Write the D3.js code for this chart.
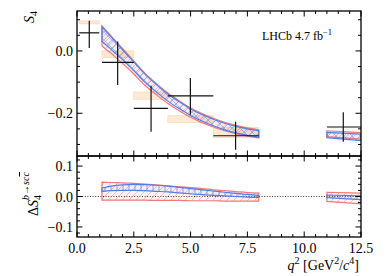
<!DOCTYPE html>
<html><head><meta charset="utf-8">
<script src="https://cdn.jsdelivr.net/npm/d3@7"></script>
<style>
html,body{margin:0;padding:0;background:#fff;}
svg{display:block;font-family:"Liberation Serif","Times New Roman","DejaVu Serif",serif;}
</style></head>
<body><svg id="c" width="390" height="276"></svg>
<script>
// ---------- data ----------
const binLo = [0.1, 1.1, 2.5, 4.0, 6.0, 11.0];
const binHi = [0.98, 2.5, 4.0, 6.0, 8.0, 12.5];
const q2Pt  = [0.54, 1.79, 3.26, 4.99, 6.98, 11.72];
const s4Pt  = [0.058, -0.037, -0.184, -0.144, -0.272, -0.244];
const errDn = [0.049, 0.072, 0.075, 0.061, 0.045, 0.047];
const errUp = [0.039, 0.067, 0.072, 0.057, 0.045, 0.047];

const smBinLo = [0.1, 1.1, 2.5, 4.0, 6.0];
const smBinHi = [0.98, 2.5, 4.0, 6.0, 8.0];
const smLo = [0.087, -0.021, -0.155, -0.230, -0.278];
const smHi = [0.096, 0.000, -0.132, -0.208, -0.245];

const qA = [1.1, 1.5, 2.0, 2.5, 3.0, 3.5, 4.0, 4.5, 5.0, 5.5, 6.0, 6.5, 7.0, 7.5, 8.0];
const blueUpA = [0.077, 0.045, 0.005, -0.035, -0.075, -0.108, -0.138, -0.163, -0.186, -0.204, -0.219, -0.232, -0.242, -0.250, -0.256];
const blueLoA = [0.030, 0.005, -0.028, -0.063, -0.101, -0.132, -0.161, -0.185, -0.207, -0.225, -0.240, -0.253, -0.263, -0.271, -0.277];
const redUpA  = [0.080, 0.048, 0.008, -0.032, -0.072, -0.105, -0.135, -0.160, -0.183, -0.201, -0.216, -0.229, -0.239, -0.247, -0.253];
const redLoA  = [0.016, -0.008, -0.040, -0.074, -0.111, -0.141, -0.169, -0.192, -0.213, -0.230, -0.244, -0.256, -0.266, -0.273, -0.279];

const qB = [11.0, 12.5];
const blueUpB = [-0.261, -0.267];
const blueLoB = [-0.278, -0.288];
const redUpB  = [-0.256, -0.262];
const redLoB  = [-0.275, -0.283];

const dBlueUpA = [0.028, 0.034, 0.038, 0.040, 0.039, 0.037, 0.034, 0.030, 0.026, 0.022, 0.018, 0.014, 0.010, 0.007, 0.004];
const dBlueLoA = [0.016, 0.019, 0.020, 0.020, 0.019, 0.017, 0.015, 0.012, 0.009, 0.006, 0.004, 0.002, 0.000, -0.002, -0.003];
const dRedUpA  = [0.047, 0.046, 0.045, 0.043, 0.041, 0.038, 0.035, 0.032, 0.029, 0.026, 0.022, 0.019, 0.016, 0.013, 0.011];
const dRedLoA  = [-0.012, -0.012, -0.012, -0.012, -0.012, -0.013, -0.013, -0.013, -0.014, -0.014, -0.014, -0.015, -0.015, -0.015, -0.015];
const dBlueUpB = [0.005, 0.002];
const dBlueLoB = [-0.004, -0.010];
const dRedUpB  = [0.014, 0.011];
const dRedLoB  = [-0.016, -0.024];

const xTickLabels = ["0.0", "2.5", "5.0", "7.5", "10.0", "12.5"];
const xTickVals = [0, 2.5, 5, 7.5, 10, 12.5];
const topTickVals = [0.0, -0.2];
const topTickLabels = ["0.0", "\u22120.2"];
const botTickVals = [0.1, 0.0, -0.1];
const botTickLabels = ["0.1", "0.0", "\u22120.1"];

// ---------- layout ----------
const L = 77, R = 361, T = 11, M = 156, B = 237;
const svg = d3.select("#c");
const x = d3.scaleLinear().domain([0, 12.5]).range([L, R]);
const yT = d3.scaleLinear().domain([-0.337, 0.128]).range([M, T]);
const yB = d3.scaleLinear().domain([-0.133, 0.133]).range([B, M]);

const BLUE = "#4f7fe6", RED = "#f07878";
const defs = svg.append("defs");
const pr = defs.append("pattern").attr("id","hr").attr("patternUnits","userSpaceOnUse").attr("width",7).attr("height",7);
pr.append("path").attr("d","M-1,8 L8,-1 M-1,1 L1,-1 M6,8 L8,6").attr("stroke",RED).attr("stroke-width",0.6).attr("opacity",0.75);
const pb = defs.append("pattern").attr("id","hb").attr("patternUnits","userSpaceOnUse").attr("width",6).attr("height",6);
pb.append("path").attr("d","M3,0 L3,6").attr("stroke",BLUE).attr("stroke-width",0.8).attr("opacity",0.85);
const pbx = defs.append("pattern").attr("id","hbx").attr("patternUnits","userSpaceOnUse").attr("width",8).attr("height",8);
pbx.append("path").attr("d","M0,0 L8,8 M8,0 L0,8").attr("stroke",BLUE).attr("stroke-width",0.6).attr("opacity",0.8);

const clipT = defs.append("clipPath").attr("id","ct"); clipT.append("rect").attr("x",L).attr("y",T).attr("width",R-L).attr("height",M-T);
const clipB = defs.append("clipPath").attr("id","cb"); clipB.append("rect").attr("x",L).attr("y",M).attr("width",R-L).attr("height",B-M);

function band(g, y, qs, up, lo, color, pat, fillOp) {
  const data = qs.map((q,i)=>({q, u:up[i], l:lo[i]}));
  const area = d3.area().x(d=>x(d.q)).y0(d=>y(d.l)).y1(d=>y(d.u)).curve(d3.curveMonotoneX);
  g.append("path").datum(data).attr("d",area).attr("fill",color).attr("fill-opacity",fillOp);
  g.append("path").datum(data).attr("d",area).attr("fill","url(#"+pat+")");
  g.append("path").datum(data).attr("d",area).attr("fill","none").attr("stroke",color).attr("stroke-width",1.2);
}

// ---------- top panel ----------
const gT = svg.append("g").attr("clip-path","url(#ct)");
smBinLo.forEach((lo,i)=>{
  gT.append("rect").attr("x",x(lo)).attr("width",x(smBinHi[i])-x(lo))
    .attr("y",yT(smHi[i])).attr("height",yT(smLo[i])-yT(smHi[i]))
    .attr("fill","#fde9d4").attr("stroke","#fcd9b6").attr("stroke-width",0.8);
});
band(gT, yT, qA, redUpA, redLoA, RED, "hr", 0.08);
band(gT, yT, qB, redUpB, redLoB, RED, "hr", 0.08);
band(gT, yT, qA, blueUpA, blueLoA, BLUE, "hbx", 0.06);
band(gT, yT, qB, blueUpB, blueLoB, BLUE, "hbx", 0.06);

q2Pt.forEach((q,i)=>{
  gT.append("line").attr("x1",x(binLo[i])).attr("x2",x(binHi[i])).attr("y1",yT(s4Pt[i])).attr("y2",yT(s4Pt[i]))
    .attr("stroke","#111").attr("stroke-width",1.2);
  gT.append("line").attr("x1",x(q)).attr("x2",x(q)).attr("y1",yT(s4Pt[i]+errUp[i])).attr("y2",yT(s4Pt[i]-errDn[i]))
    .attr("stroke","#111").attr("stroke-width",1.2);
});

// ---------- bottom panel ----------
const gB = svg.append("g").attr("clip-path","url(#cb)");
gB.append("line").attr("x1",L).attr("x2",R).attr("y1",yB(0)).attr("y2",yB(0))
  .attr("stroke","#333").attr("stroke-width",1).attr("stroke-dasharray","1,1.6");
band(gB, yB, qA, dRedUpA, dRedLoA, RED, "hr", 0.08);
band(gB, yB, qB, dRedUpB, dRedLoB, RED, "hr", 0.08);
band(gB, yB, qA, dBlueUpA, dBlueLoA, BLUE, "hb", 0.06);
band(gB, yB, qB, dBlueUpB, dBlueLoB, BLUE, "hb", 0.06);

// ---------- axes (inward ticks) ----------
function ticksX(yPos, dir) {
  d3.range(0, 12.51, 0.5).forEach(v=>{
    const major = Math.abs(v/2.5 - Math.round(v/2.5)) < 1e-6;
    const len = major ? 5.5 : 3;
    svg.append("line").attr("x1",x(v)).attr("x2",x(v)).attr("y1",yPos).attr("y2",yPos+dir*len)
      .attr("stroke","#000").attr("stroke-width",1);
  });
}
function ticksY(ys, vals, majors, xPos, dir) {
  vals.forEach(v=>{
    const major = majors.some(m=>Math.abs(m-v)<1e-6);
    const len = major ? 5.5 : 3;
    svg.append("line").attr("x1",xPos).attr("x2",xPos+dir*len).attr("y1",ys(v)).attr("y2",ys(v))
      .attr("stroke","#000").attr("stroke-width",1);
  });
}
ticksX(T, 1); ticksX(M, -1); ticksX(M, 1); ticksX(B, -1);
const topMinor = d3.range(-0.3, 0.11, 0.05).map(v=>Math.round(v*100)/100);
ticksY(yT, topMinor, [0, -0.2], L, 1); ticksY(yT, topMinor, [0, -0.2], R, -1);
const botMinor = d3.range(-0.12, 0.121, 0.02).map(v=>Math.round(v*100)/100);
ticksY(yB, botMinor, [0.1, 0, -0.1], L, 1); ticksY(yB, botMinor, [0.1, 0, -0.1], R, -1);

svg.append("rect").attr("x",L).attr("y",T).attr("width",R-L).attr("height",M-T).attr("fill","none").attr("stroke","#000").attr("stroke-width",1.3);
svg.append("rect").attr("x",L).attr("y",M).attr("width",R-L).attr("height",B-M).attr("fill","none").attr("stroke","#000").attr("stroke-width",1.3);

// tick labels
xTickVals.forEach((v,i)=>{
  svg.append("text").attr("x",x(v)).attr("y",253).attr("text-anchor","middle").attr("font-size",14).text(xTickLabels[i]);
});
topTickVals.forEach((v,i)=>{
  svg.append("text").attr("x",L-4).attr("y",yT(v)+5).attr("text-anchor","end").attr("font-size",14).text(topTickLabels[i]);
});
botTickVals.forEach((v,i)=>{
  svg.append("text").attr("x",L-4).attr("y",yB(v)+5).attr("text-anchor","end").attr("font-size",14).text(botTickLabels[i]);
});

// axis labels
const yl1 = svg.append("text").attr("transform","translate(34,11) rotate(-90)").attr("text-anchor","end").attr("font-size",14);
yl1.append("tspan").attr("font-style","italic").text("S");
yl1.append("tspan").attr("font-size",10).attr("dy",3).text("4");

const yl2 = svg.append("text").attr("transform","translate(38,194) rotate(-90)").attr("text-anchor","middle").attr("font-size",14);
yl2.append("tspan").text("\u0394");
yl2.append("tspan").attr("font-style","italic").text("S");
yl2.append("tspan").attr("font-size",10).attr("dy",3).text("4");
yl2.append("tspan").attr("font-size",10).attr("dx",-5).attr("dy",-12).attr("font-style","italic").text("b");
yl2.append("tspan").attr("font-size",10).text("\u2192");
yl2.append("tspan").attr("font-size",10).attr("font-style","italic").text("sc");
yl2.append("tspan").attr("font-size",10).attr("font-style","italic").attr("text-decoration","overline").text("c");

const xl = svg.append("text").attr("x",359).attr("y",270).attr("text-anchor","end").attr("font-size",14);
xl.append("tspan").attr("font-style","italic").text("q");
xl.append("tspan").attr("font-size",10).attr("dy",-6).text("2");
xl.append("tspan").attr("dy",6).text(" [GeV");
xl.append("tspan").attr("font-size",10).attr("dy",-6).text("2");
xl.append("tspan").attr("dy",6).text("/");
xl.append("tspan").attr("font-style","italic").text("c");
xl.append("tspan").attr("font-size",10).attr("dy",-6).text("4");
xl.append("tspan").attr("dy",6).text("]");

const lh = svg.append("text").attr("x",262).attr("y",40).attr("font-size",12);
lh.append("tspan").text("LHCb 4.7 fb");
lh.append("tspan").attr("font-size",8.5).attr("dy",-5).text("\u22121");
</script></body></html>
